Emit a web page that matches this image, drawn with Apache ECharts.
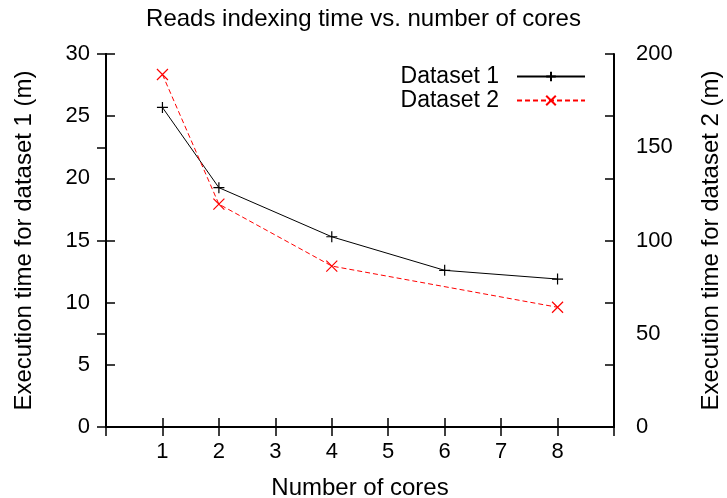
<!DOCTYPE html>
<html>
<head>
<meta charset="utf-8">
<script src="https://cdn.jsdelivr.net/npm/echarts@6/dist/echarts.min.js"></script>
<style>
html,body{margin:0;padding:0;background:#fff;}
#chart{width:727px;height:498px;}
</style>
</head>
<body>
<div id="chart"></div>
<script>
var titleText = 'Reads indexing time vs. number of cores';
var xName = 'Number of cores';
var y1Name = 'Execution time for dataset 1 (m)';
var y2Name = 'Execution time for dataset 2 (m)';
var seriesNames = ['Dataset 1', 'Dataset 2'];

var cores1 = [1, 2, 4, 6, 8];
var dataset1 = [25.7, 19.25, 15.3, 12.6, 11.9];
var cores2 = [1, 2, 4, 8];
var dataset2 = [189, 119.5, 86.3, 64.2];

var xMin = 0, xMax = 9, xInterval = 1;
var y1Min = 0, y1Max = 30, y1Interval = 5;
var y2Min = 0, y2Max = 200, y2Interval = 50;

function pairs(xs, ys) { return xs.map(function (x, i) { return [x, ys[i]]; }); }

var FONT = '"Liberation Sans", Arial, sans-serif';
var txt = { color: '#000', fontFamily: FONT, fontSize: 22 };
var nameTxt = { color: '#000', fontFamily: FONT, fontSize: 24 };
var axisLine = { show: true, lineStyle: { color: '#000', width: 2 } };
var tick = { show: true, inside: true, length: 9, lineStyle: { color: '#000', width: 1.5 } };

var chart = echarts.init(document.getElementById('chart'), null, { renderer: 'canvas' });
chart.setOption({
  animation: false,
  backgroundColor: '#fff',
  title: {
    text: titleText, left: 'center', top: 7, padding: 0,
    textStyle: { color: '#000', fontFamily: FONT, fontSize: 24, fontWeight: 'normal' }
  },
  grid: { left: 106, right: 113, top: 54, bottom: 71, containLabel: false, outerBoundsMode: 'none' },
  legend: {
    data: seriesNames, orient: 'vertical', right: 141, top: 65, align: 'right',
    itemWidth: 68, itemHeight: 12, itemGap: 1, padding: 0,
    textStyle: { color: '#000', fontFamily: FONT, fontSize: 23, lineHeight: 23, padding: [0, 13, 0, 0] }
  },
  xAxis: [{
    type: 'value', min: xMin, max: xMax, interval: xInterval, position: 'bottom',
    name: xName, nameLocation: 'middle', nameGap: 49, nameTextStyle: nameTxt,
    axisLine: axisLine, axisTick: tick, splitLine: { show: false },
    axisLabel: Object.assign({ margin: 14, formatter: function (v) { return (v === xMin || v === xMax) ? '' : String(v); } }, txt)
  }, {
    type: 'value', min: xMin, max: xMax, interval: xInterval, position: 'top',
    axisLine: axisLine, axisTick: tick, splitLine: { show: false }, axisLabel: { show: false }
  }],
  yAxis: [{
    type: 'value', min: y1Min, max: y1Max, interval: y1Interval, position: 'left',
    name: y1Name, nameLocation: 'middle', nameGap: 70, nameRotate: 90, nameTextStyle: nameTxt,
    axisLine: axisLine, axisTick: tick, splitLine: { show: false },
    axisLabel: Object.assign({ margin: 16 }, txt)
  }, {
    type: 'value', min: y2Min, max: y2Max, interval: y2Interval, position: 'right',
    name: y2Name, nameLocation: 'middle', nameGap: 85, nameRotate: 90, nameTextStyle: nameTxt,
    axisLine: axisLine, axisTick: tick, splitLine: { show: false },
    axisLabel: Object.assign({ margin: 22 }, txt)
  }, {
    type: 'value', min: y1Min, max: y1Max, interval: y1Interval, position: 'right',
    axisLine: axisLine, axisTick: tick, splitLine: { show: false }, axisLabel: { show: false }
  }],
  series: [{
    name: seriesNames[0], type: 'line', xAxisIndex: 0, yAxisIndex: 0,
    data: pairs(cores1, dataset1),
    symbol: 'path://M0,5L10,5M5,0L5,10', symbolSize: 11,
    itemStyle: { color: 'none', borderColor: '#000', borderWidth: 1.2 },
    lineStyle: { color: '#000', width: 1, type: 'solid' },
    silent: true
  }, {
    name: seriesNames[1], type: 'line', xAxisIndex: 0, yAxisIndex: 1,
    data: pairs(cores2, dataset2),
    symbol: 'path://M0,0L10,10M10,0L0,10', symbolSize: 11,
    itemStyle: { color: 'none', borderColor: '#ff0000', borderWidth: 1.2 },
    lineStyle: { color: '#ff0000', width: 1, type: [5, 3] },
    silent: true
  }]
});
</script>
</body>
</html>
